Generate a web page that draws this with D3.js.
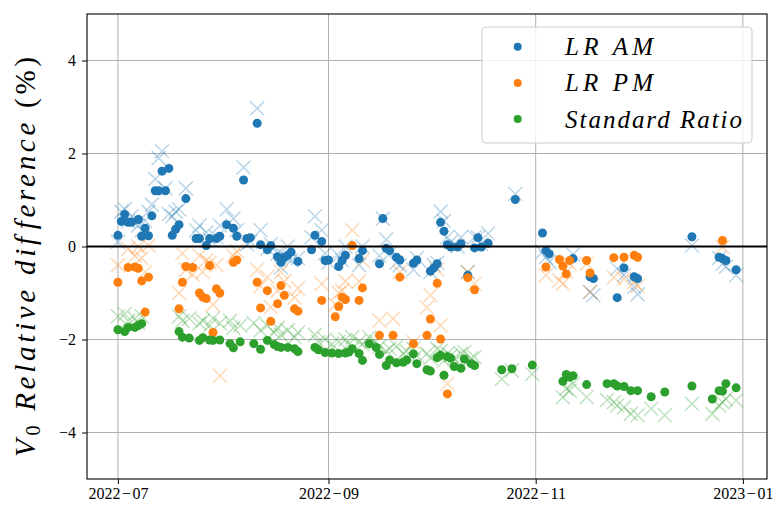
<!DOCTYPE html>
<html lang="en">

<head>
    <meta charset="UTF-8">
    <title>V0 relative difference</title>
    <style>
        body {
            margin: 0;
            background: white;
        }

        text {
            font-family: "Liberation Serif", "DejaVu Serif", serif;
            fill: black;
        }

        .grid line {
            stroke: #b0b0b0;
            stroke-width: 1;
        }
    </style>
</head>

<body>
    <script src="https://d3js.org/d3.v7.min.js"></script>
    <svg id="svg"></svg>
    <script>
        // LR AM
        var amDates = [
            "2022-07-01", "2022-07-02", "2022-07-03", "2022-07-04", "2022-07-05", "2022-07-07", "2022-07-08", "2022-07-09",
            "2022-07-10", "2022-07-11", "2022-07-12", "2022-07-13", "2022-07-14", "2022-07-15", "2022-07-16", "2022-07-17",
            "2022-07-18", "2022-07-19", "2022-07-21", "2022-07-24", "2022-07-25", "2022-07-27", "2022-07-28", "2022-07-30",
            "2022-07-31",
            "2022-08-02", "2022-08-04", "2022-08-05", "2022-08-07", "2022-08-08", "2022-08-09", "2022-08-11", "2022-08-12",
            "2022-08-14", "2022-08-15", "2022-08-17", "2022-08-18", "2022-08-19", "2022-08-20", "2022-08-21", "2022-08-23",
            "2022-08-27", "2022-08-28", "2022-08-30", "2022-08-31",
            "2022-09-01", "2022-09-04", "2022-09-05", "2022-09-06", "2022-09-10", "2022-09-11", "2022-09-16", "2022-09-17",
            "2022-09-18", "2022-09-19", "2022-09-21", "2022-09-22", "2022-09-26", "2022-09-27",
            "2022-10-01", "2022-10-02", "2022-10-03", "2022-10-04", "2022-10-05", "2022-10-06", "2022-10-07", "2022-10-09",
            "2022-10-10", "2022-10-12", "2022-10-14", "2022-10-15", "2022-10-16", "2022-10-18", "2022-10-26",
            "2022-11-03", "2022-11-04", "2022-11-05", "2022-11-12", "2022-11-17", "2022-11-18", "2022-11-25", "2022-11-27",
            "2022-11-30",
            "2022-12-01", "2022-12-17", "2022-12-25", "2022-12-26", "2022-12-27", "2022-12-30"
        ];
        var amValues = [
            0.24, 0.54, 0.69, 0.52, 0.52, 0.58, 0.22, 0.39, 0.23, 0.66, 1.20, 1.20, 1.62, 1.20, 1.68, 0.24,
            0.37, 0.47, 1.03, 0.17, 0.17, 0.02, 0.17, 0.17, 0.22,
            0.47, 0.39, 0.22, 1.43, 0.17, 0.19, 2.65, 0.04, -0.07, 0.02, -0.22, -0.34, -0.23, -0.19, -0.12, -0.32,
            -0.07, 0.24, 0.11, -0.30,
            -0.29, -0.43, -0.30, -0.19, -0.26, -0.09, -0.37, 0.60, -0.04, -0.09, -0.23, -0.29, -0.36, -0.29,
            -0.53, -0.46, -0.37, 0.52, 0.33, 0.04, -0.01, -0.01, 0.06, -0.62, -0.03, 0.19, -0.01, 0.07, 1.01,
            0.29, -0.09, -0.16, -0.26, -0.65, -0.69, -1.10, -0.46, -0.65,
            -0.69, 0.21, -0.23, -0.26, -0.30, -0.50
        ];
        var amCross = [
            0.10, 0.75, 0.80, 0.55, 0.65, 0.45, 0.35, 0.55, 0.75, 0.90, 1.45, 1.90, 2.05, 1.25, 0.70, 0.65,
            0.75, 0.80, 1.25, 0.35, 0.45, 0.30, 0.15, 0.20, 0.45,
            0.80, 0.60, 0.35, 1.70, 0.05, 0.10, 2.97, 0.35, -0.05, 0.05, -0.15, -0.45, -0.20, 0.00, -0.30, -0.25,
            0.20, 0.65, 0.35, -0.15,
            -0.35, -0.20, -0.30, 0.00, -0.40, 0.00, -0.20, 0.60, 0.15, -0.15, -0.35, -0.40, -0.50, -0.25,
            -0.55, -0.40, -0.35, 0.75, 0.55, 0.20, 0.10, 0.00, 0.20, -0.55, 0.20, 0.20, 0.05, 0.28, 1.13,
            -0.12, -0.23, -0.33, -0.17, -0.98, -1.05, -0.48, -0.62, -0.87,
            -1.03, 0.02, -0.25, -0.37, -0.44, -0.62
        ];

        // LR PM
        var pmDates = [
            "2022-07-01", "2022-07-04", "2022-07-06", "2022-07-07", "2022-07-08", "2022-07-09", "2022-07-10", "2022-07-19",
            "2022-07-20", "2022-07-21", "2022-07-23", "2022-07-25", "2022-07-26", "2022-07-27", "2022-07-28", "2022-07-29",
            "2022-07-30", "2022-07-31",
            "2022-08-04", "2022-08-05", "2022-08-11", "2022-08-12", "2022-08-14", "2022-08-15", "2022-08-17", "2022-08-18",
            "2022-08-19", "2022-08-22", "2022-08-23", "2022-08-30",
            "2022-09-03", "2022-09-04", "2022-09-05", "2022-09-06", "2022-09-08", "2022-09-10", "2022-09-11", "2022-09-16",
            "2022-09-20", "2022-09-22", "2022-09-26", "2022-09-30",
            "2022-10-01", "2022-10-03", "2022-10-04", "2022-10-06", "2022-10-12", "2022-10-14",
            "2022-11-04", "2022-11-08", "2022-11-09", "2022-11-10", "2022-11-11", "2022-11-16", "2022-11-17", "2022-11-24",
            "2022-11-27", "2022-11-30",
            "2022-12-01", "2022-12-26"
        ];
        var pmValues = [
            -0.77, -0.45, -0.44, -0.47, -0.74, -1.41, -0.66, -1.34, -0.77, -0.43, -0.45, -1.00, -1.09, -1.12, -0.41, -1.85,
            -0.91, -1.00,
            -0.34, -0.29, -0.77, -1.32, -0.95, -1.61, -1.23, -0.84, -1.05, -1.34, -1.39, -1.16,
            -1.51, -1.29, -1.09, -1.14, 0.02, -1.16, -0.89, -1.91, -1.91, -0.66, -2.09, -1.91,
            -1.56, -0.79, -1.99, -3.17, -0.67, -0.93,
            -0.44, -0.28, -0.42, -0.59, -0.30, -0.30, -0.57, -0.24, -0.23, -0.19,
            -0.23, 0.13
        ];
        var pmCross = [
            -0.40, -0.05, -0.20, 0.00, -0.25, -0.55, 0.02, -1.00, -0.15, -0.50, -0.60, -0.20, -0.55, -0.30, -0.35, -1.25,
            -0.40, -2.78,
            -0.20, -0.10, -0.50, -0.85, -0.65, -1.30, -0.95, -0.55, -0.75, -1.10, -0.90, -0.80,
            -1.25, -1.00, -0.95, -0.75, 0.35, -0.75, -0.30, -1.59, -1.55, -0.55, -2.06, -1.31,
            -1.05, -0.50, -1.70, -2.95, -0.55, -0.80,
            -0.62, -0.73, -0.80, -0.55, -0.37, -0.37, -0.98, -0.66, -0.70, -0.77,
            -0.85, -0.01
        ];

        // Standard Ratio
        var srDates = [
            "2022-07-01", "2022-07-03", "2022-07-04", "2022-07-06", "2022-07-07", "2022-07-08", "2022-07-19", "2022-07-20",
            "2022-07-22", "2022-07-25", "2022-07-26", "2022-07-28", "2022-07-29", "2022-07-31",
            "2022-08-03", "2022-08-04", "2022-08-06", "2022-08-10", "2022-08-12", "2022-08-14", "2022-08-16", "2022-08-17",
            "2022-08-18", "2022-08-20", "2022-08-22", "2022-08-23", "2022-08-28", "2022-08-29", "2022-08-31",
            "2022-09-02", "2022-09-04", "2022-09-06", "2022-09-07", "2022-09-08", "2022-09-10", "2022-09-11", "2022-09-13",
            "2022-09-15", "2022-09-16", "2022-09-18", "2022-09-19", "2022-09-21", "2022-09-23", "2022-09-24", "2022-09-26",
            "2022-09-27", "2022-09-30",
            "2022-10-01", "2022-10-03", "2022-10-04", "2022-10-05", "2022-10-06", "2022-10-07", "2022-10-08", "2022-10-10",
            "2022-10-11", "2022-10-13", "2022-10-14", "2022-10-22", "2022-10-25", "2022-10-31",
            "2022-11-09", "2022-11-10", "2022-11-11", "2022-11-12", "2022-11-16", "2022-11-22", "2022-11-24", "2022-11-25",
            "2022-11-27", "2022-11-29",
            "2022-12-01", "2022-12-05", "2022-12-09", "2022-12-17", "2022-12-23", "2022-12-25", "2022-12-26", "2022-12-27",
            "2022-12-30"
        ];
        var srValues = [
            -1.79, -1.83, -1.74, -1.74, -1.70, -1.66, -1.83, -1.95, -1.97, -2.02, -1.96, -2.01, -2.02, -2.01,
            -2.09, -2.18, -2.05, -2.09, -2.21, -2.02, -2.11, -2.15, -2.17, -2.17, -2.20, -2.26, -2.17, -2.22, -2.28,
            -2.29, -2.30, -2.29, -2.27, -2.20, -2.30, -2.45, -2.09, -2.17, -2.32, -2.56, -2.44, -2.50, -2.49, -2.44, -2.31,
            -2.52, -2.65,
            -2.68, -2.39, -2.34, -2.77, -2.37, -2.40, -2.58, -2.62, -2.42, -2.52, -2.56, -2.65, -2.63, -2.55,
            -2.90, -2.75, -2.81, -2.78, -2.97, -2.95, -2.95, -3.00, -3.01, -3.10,
            -3.10, -3.23, -3.13, -3.00, -3.28, -3.10, -3.11, -2.95, -3.04
        ];
        var srCross = [
            -1.50, -1.45, -1.60, -1.55, -1.65, -1.50, -1.50, -1.60, -1.55, -1.65, -1.60, -1.70, -1.55, -1.65,
            -1.60, -1.75, -1.70, -1.65, -1.80, -1.70, -1.85, -1.75, -1.90, -1.80, -1.95, -1.85, -1.90, -2.05, -2.00,
            -2.10, -2.05, -2.00, -2.10, -1.95, -2.05, -2.10, -1.95, -2.05, -2.15, -2.25, -2.20, -2.15, -2.30, -2.25, -2.20,
            -2.35, -2.30,
            -2.40, -2.20, -2.25, -2.45, -2.30, -2.35, -2.40, -2.30, -2.27, -2.40, -2.38, -2.85, -2.67, -2.74,
            -3.24, -3.06, -3.10, -2.95, -3.24, -3.30, -3.35, -3.42, -3.46, -3.60,
            -3.63, -3.49, -3.63, -3.38, -3.60, -3.42, -3.35, -3.28, -3.31
        ];

        var seriesNames = ["LR AM", "LR PM", "Standard Ratio"];
        var yTicks = [-4, -2, 0, 2, 4];
        var xTicks = ["2022-07-01", "2022-09-01", "2022-11-01", "2023-01-01"];

        var colors = ["#1f77b4", "#ff7f0e", "#2ca02c"];

        var w = 773,
            h = 508,
            margin = { top: 14, right: 6, bottom: 29, left: 87 };

        var parse = d3.utcParse("%Y-%m-%d");

        function pack(dates, vals) {
            return dates.map(function (d, i) {
                return { date: parse(d), value: vals[i] };
            });
        }

        var series = [
            { dots: pack(amDates, amValues), cross: pack(amDates, amCross) },
            { dots: pack(pmDates, pmValues), cross: pack(pmDates, pmCross) },
            { dots: pack(srDates, srValues), cross: pack(srDates, srCross) }
        ];

        // matplotlib style 5% margin on the dates
        var allDates = amDates.concat(pmDates, srDates).map(parse);
        var ext = d3.extent(allDates);
        var pad = (ext[1] - ext[0]) * 0.05;

        var x = d3.scaleUtc()
            .domain([new Date(+ext[0] - pad), new Date(+ext[1] + pad)])
            .range([margin.left, w - margin.right]);

        var y = d3.scaleLinear()
            .domain([-5, 5])
            .range([h - margin.bottom, margin.top]);

        var svg = d3.select("svg")
            .attr("width", w)
            .attr("height", h);

        svg.append("defs").append("clipPath")
            .attr("id", "clip")
            .append("rect")
            .attr("x", margin.left)
            .attr("y", margin.top)
            .attr("width", w - margin.left - margin.right)
            .attr("height", h - margin.top - margin.bottom);

        // grid
        var grid = svg.append("g").attr("class", "grid");
        grid.selectAll(".gx")
            .data(xTicks.map(parse))
            .enter().append("line")
            .attr("x1", (d) => x(d)).attr("x2", (d) => x(d))
            .attr("y1", margin.top).attr("y2", h - margin.bottom);
        grid.selectAll(".gy")
            .data(yTicks)
            .enter().append("line")
            .attr("x1", margin.left).attr("x2", w - margin.right)
            .attr("y1", (d) => y(d)).attr("y2", (d) => y(d));

        var plot = svg.append("g").attr("clip-path", "url(#clip)");

        // crosses first, then dots
        var s = 7;
        series.forEach(function (ser, k) {
            plot.append("g")
                .selectAll("path")
                .data(ser.cross)
                .enter().append("path")
                .attr("transform", (d) => "translate(" + x(d.date) + "," + y(d.value) + ")")
                .attr("d", "M" + -s + "," + -s + "L" + s + "," + s + "M" + -s + "," + s + "L" + s + "," + -s)
                .attr("stroke", colors[k])
                .attr("stroke-opacity", 0.3)
                .attr("stroke-width", 1.5)
                .attr("fill", "none");
        });

        series.forEach(function (ser, k) {
            plot.append("g")
                .selectAll("circle")
                .data(ser.dots)
                .enter().append("circle")
                .attr("cx", (d) => x(d.date))
                .attr("cy", (d) => y(d.value))
                .attr("r", 4.5)
                .attr("fill", colors[k]);
        });

        // zero line
        plot.append("line")
            .attr("x1", margin.left).attr("x2", w - margin.right)
            .attr("y1", y(0)).attr("y2", y(0))
            .attr("stroke", "black")
            .attr("stroke-width", 2);

        // axes
        var xAxis = d3.axisBottom(x)
            .tickValues(xTicks.map(parse))
            .tickSize(5)
            .tickPadding(4)
            .tickFormat(d3.utcFormat("%Y-%m"));

        var yAxis = d3.axisLeft(y)
            .tickValues(yTicks)
            .tickSize(5)
            .tickPadding(6)
            .tickFormat((d) => (d < 0 ? "\u2212" + Math.abs(d) : "" + d));

        var gx = svg.append("g")
            .attr("transform", "translate(0," + (h - margin.bottom) + ")")
            .call(xAxis);
        var gy = svg.append("g")
            .attr("transform", "translate(" + margin.left + ",0)")
            .call(yAxis);

        [gx, gy].forEach(function (g) {
            g.attr("font-family", null);
            g.select(".domain").remove();
            g.selectAll(".tick line").attr("stroke", "black").attr("stroke-width", 1);
            g.selectAll(".tick text")
                .style("font-family", "'Liberation Serif', serif")
                .style("font-size", "16px");
        });

        // "2022−07" with a little room round the minus, as LaTeX sets it
        gx.selectAll(".tick text").each(function () {
            var t = d3.select(this);
            var parts = t.text().split("-");
            t.text(null);
            t.append("tspan").text(parts[0]);
            t.append("tspan").attr("dx", 1.5).text("\u2212");
            t.append("tspan").attr("dx", 1.5).text(parts[1]);
        });

        svg.append("rect")
            .attr("x", margin.left)
            .attr("y", margin.top)
            .attr("width", w - margin.left - margin.right)
            .attr("height", h - margin.top - margin.bottom)
            .attr("fill", "none")
            .attr("stroke", "black")
            .attr("stroke-width", 1.1);

        // y label
        var ylab = svg.append("text")
            .attr("transform", "translate(35," + 257 + ") rotate(-90)")
            .attr("text-anchor", "middle")
            .attr("font-size", 29)
            .attr("textLength", 400);
        ylab.append("tspan").attr("font-style", "italic").text("V");
        ylab.append("tspan").attr("font-size", 20).attr("dy", 5).text("0");
        ylab.append("tspan").attr("dy", -5).attr("font-style", "italic").text(" Relative dif");
        ylab.append("tspan").attr("font-style", "italic").attr("dx", 4).text("ference");
        ylab.append("tspan").text(" (%)");

        // legend
        var lg = svg.append("g");
        lg.append("rect")
            .attr("x", 482)
            .attr("y", 27)
            .attr("width", 270)
            .attr("height", 116)
            .attr("rx", 4)
            .attr("fill", "white")
            .attr("fill-opacity", 0.8)
            .attr("stroke", "#cccccc")
            .attr("stroke-width", 1);

        var legendWidths = [88, 88, 177];
        seriesNames.forEach(function (name, k) {
            var ly = 46.7 + k * 36.2;
            lg.append("circle")
                .attr("cx", 517.7)
                .attr("cy", ly)
                .attr("r", 4)
                .attr("fill", colors[k]);
            lg.append("text")
                .attr("x", 565)
                .attr("y", ly + 8.5)
                .attr("font-size", 25)
                .attr("font-style", "italic")
                .attr("textLength", legendWidths[k])
                .text(name);
        });
    </script>
</body>

</html>
